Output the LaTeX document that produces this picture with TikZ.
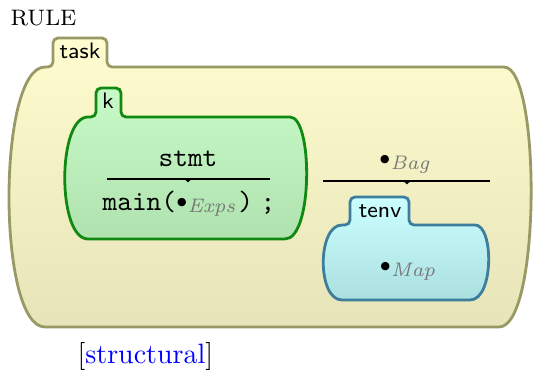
\documentclass[tikz,border=0pt]{standalone}
\usepackage{xcolor}
\definecolor{taskborder}{HTML}{999966}
\definecolor{tasktop}{HTML}{FFFDCF}
\definecolor{taskbot}{HTML}{E6E4B8}
\definecolor{kborder}{HTML}{118811}
\definecolor{ktop}{HTML}{C8FAC8}
\definecolor{kbot}{HTML}{B0E2B0}
\definecolor{tenvborder}{HTML}{3D7E9C}
\definecolor{tenvtop}{HTML}{CCFFFF}
\definecolor{tenvbot}{HTML}{ABDFE0}
\definecolor{sortgray}{HTML}{777777}
% #1 left flat x, #2 right flat x, #3 top y, #4 bottom y,
% #5 left control x, #6 right control x, #7 tab left, #8 tab right, #9 tab top
\newcommand\kcellshape[9]{(#1,#3) [rounded corners=1.8pt] -- (#7,#3) -- (#7,#9) -- (#8,#9) -- (#8,#3) -- (#2,#3) [sharp corners] .. controls (#6,#3) and (#6,#4) .. (#2,#4) -- (#1,#4) .. controls (#5,#4) and (#5,#3) .. cycle}
\newcommand\sortdot[1]{\raisebox{2.1pt}{$\scriptstyle\bullet$}\textcolor{sortgray}{$\scriptstyle\mathit{#1}$}}
\begin{document}
\begin{tikzpicture}[x=0.35714pt,y=-0.35714pt,
  taskcell/.style={draw=taskborder,line width=1pt,top color=tasktop,bottom color=taskbot},
  kcell/.style={draw=kborder,line width=1pt,top color=ktop,bottom color=kbot},
  tenvcell/.style={draw=tenvborder,line width=1pt,top color=tenvtop,bottom color=tenvbot},
  celllabel/.style={font=\footnotesize\sffamily,inner sep=0pt,anchor=base},
  content/.style={inner sep=0pt,anchor=base},
  rulesep/.style={line width=0.45pt},
  sepmark/.style={fill=black}]
\useasboundingbox (0,0) rectangle (535,370);
% cells
\path[taskcell] \kcellshape{45}{499}{67}{327}{-3}{541}{53}{107}{38};
\path[kcell] \kcellshape{88}{285}{117}{239}{57}{313}{96}{121}{88};
\path[tenvcell] \kcellshape{342}{470}{225}{300}{317}{494}{350}{409}{197};
% labels
\node[content,anchor=base west] (rule) at (10,26) {\footnotesize RULE};
\node[content,anchor=base west] (struct) at (77,363) {[\textcolor{blue}{structural}]};
\node[celllabel] (tasklbl) at (80,59) {task};
\node[celllabel] (klbl) at (108,109) {k};
\node[celllabel] (tenvlbl) at (380,218) {tenv};
% k contents
\node[content] (stmt) at (188,166) {\texttt{stmt}};
\coordinate (ka) at (107,179);
\coordinate (kb) at (270,179);
\coordinate (kc) at (188,179);
\draw[rulesep] (ka) -- (kb);
\fill[sepmark] ([xshift=-1.3pt]kc) -- ([xshift=1.3pt]kc) -- ([yshift=-1.2pt]kc) -- cycle;
\node[content] (main) at (189,211) {\texttt{main(}\raisebox{-0.7pt}{\sortdot{Exps}}\kern0.6pt\texttt{)}\kern2.7pt\texttt{;}};
% env rewrite
\node[content] (bag) at (405,170) {\sortdot{Bag}};
\coordinate (ea) at (323,181);
\coordinate (eb) at (490,181);
\coordinate (ec) at (407,181);
\draw[rulesep] (ea) -- (eb);
\fill[sepmark] ([xshift=-1.3pt]ec) -- ([xshift=1.3pt]ec) -- ([yshift=-1.2pt]ec) -- cycle;
\node[content] (map) at (408,277) {\sortdot{Map}};
\end{tikzpicture}
\end{document}
